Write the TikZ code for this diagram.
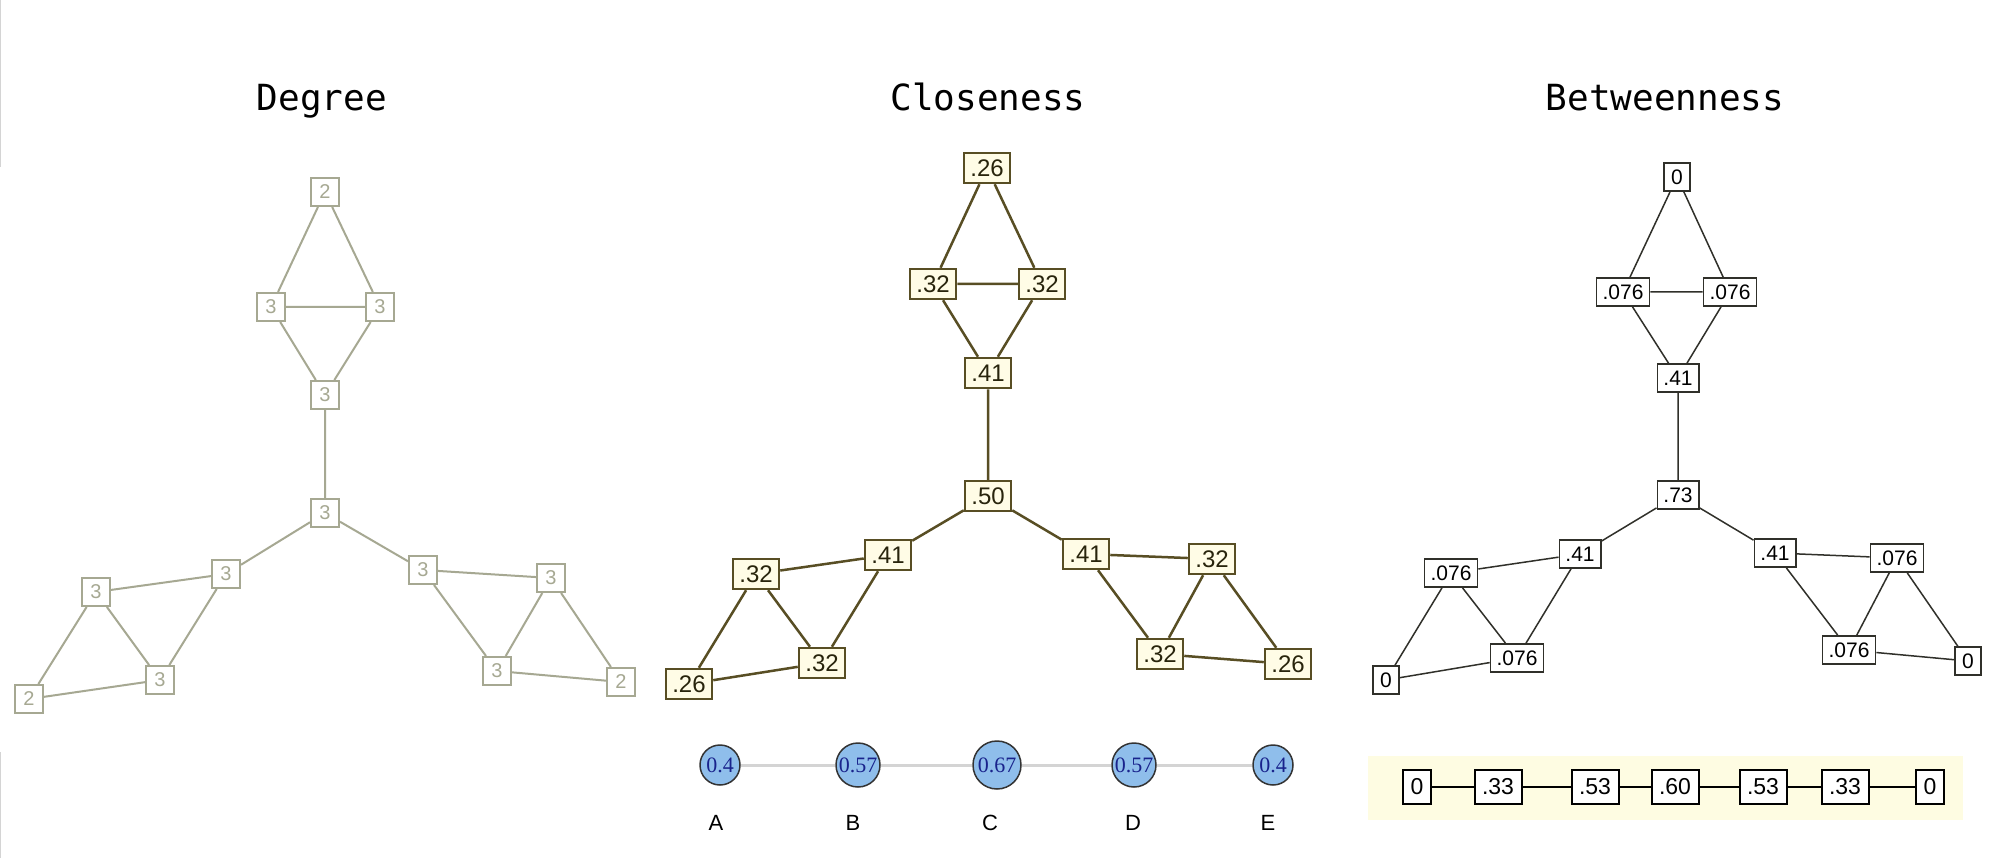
\documentclass[tikz,border=0pt]{standalone}
\usepackage{fontspec}
\setmainfont{Liberation Sans}
\newfontfamily\titlefont{DejaVu Sans Mono}
\newfontfamily\valfont{Liberation Serif}
\usepackage{xcolor}
\usepackage{tikz}
\definecolor{degreegray}{RGB}{166,168,146}
\definecolor{closeline}{RGB}{88,78,36}
\definecolor{closefill}{RGB}{255,252,230}
\definecolor{closetext}{RGB}{40,36,12}
\definecolor{betweenline}{RGB}{48,48,42}
\definecolor{pathback}{RGB}{254,252,226}
\definecolor{circfill}{RGB}{143,190,235}
\definecolor{circtext}{RGB}{25,35,140}
\definecolor{edgegray}{RGB}{212,212,212}

\begin{document}
\begin{tikzpicture}[x=1pt, y=-1pt,
  paneltitle/.style={anchor=base, font=\titlefont\fontsize{36}{40}\selectfont},
  degbox/.style={draw=degreegray, line width=2pt, fill=white, text=degreegray,
    minimum size=28pt, inner sep=0pt, font=\fontsize{20}{20}\selectfont},
  degedge/.style={draw=degreegray, line width=2pt},
  closebox/.style={draw=closeline, line width=2.5pt, fill=closefill, text=closetext,
    minimum width=46pt, minimum height=30pt, inner xsep=6pt, inner ysep=0pt,
    font=\fontsize{24}{24}\selectfont},
  closeedge/.style={draw=closeline, line width=2.5pt},
  betbox/.style={draw=betweenline, line width=1.8pt, fill=white, text=black,
    minimum width=26pt, minimum height=28pt, inner xsep=6pt, inner ysep=0pt,
    font=\fontsize{21}{21}\selectfont},
  betedge/.style={draw=betweenline, line width=1.5pt},
  valcirc/.style={circle, draw=black!80, line width=1.5pt, fill=circfill, text=circtext,
    inner sep=0pt, font=\valfont\fontsize{22}{22}\selectfont},
  letter/.style={font=\fontsize{22}{22}\selectfont},
  pathbox/.style={draw=black, line width=2pt, fill=white,
    minimum width=27pt, minimum height=34pt, inner xsep=7.5pt, inner ysep=0pt,
    font=\fontsize{23}{23}\selectfont},
  pathedge/.style={draw=black, line width=2pt}]

  \useasboundingbox (0,0) rectangle (1996,858);
  \fill[white] (0,0) rectangle (1996,858);

  % thin rule at the left edge
  \draw[edgegray, line width=1pt] (0.5,0) -- (0.5,167);
  \draw[edgegray, line width=1pt] (0.5,752) -- (0.5,858);

  % Panel titles
  \node[paneltitle] (tdeg) at (322,111) {Degree};
  \node[paneltitle] (tclo) at (988,111) {Closeness};
  \node[paneltitle] (tbet) at (1665,111) {Betweenness};

  % Degree graph
  \node[degbox] (dtop) at (325,192) {2};
  \node[degbox] (dl)   at (271,307) {3};
  \node[degbox] (dr)   at (380,307) {3};
  \node[degbox] (dmid) at (325,395) {3};
  \node[degbox] (dc)   at (325,513) {3};
  \node[degbox] (dli)  at (226,574) {3};
  \node[degbox] (dlo)  at (96,592)  {3};
  \node[degbox] (dlb)  at (160,680) {3};
  \node[degbox] (dle)  at (29,699)  {2};
  \node[degbox] (dri)  at (423,570) {3};
  \node[degbox] (dro)  at (551,578) {3};
  \node[degbox] (drb)  at (497,671) {3};
  \node[degbox] (dre)  at (621,682) {2};
  \draw[degedge] (dtop) -- (dl) (dtop) -- (dr) (dl) -- (dr)
    (dl) -- (dmid) (dr) -- (dmid) (dmid) -- (dc)
    (dc) -- (dli) (dc) -- (dri)
    (dli) -- (dlo) (dli) -- (dlb) (dlo) -- (dlb) (dlo) -- (dle) (dlb) -- (dle)
    (dri) -- (dro) (dri) -- (drb) (dro) -- (drb) (dro) -- (dre) (drb) -- (dre);

  % Closeness graph
  \node[closebox] (ctop) at (987,168)  {.26};
  \node[closebox] (cl)   at (933,284)  {.32};
  \node[closebox] (cr)   at (1042,284) {.32};
  \node[closebox] (cmid) at (988,373)  {.41};
  \node[closebox] (cc)   at (988,496)  {.50};
  \node[closebox] (cli)  at (888,555)  {.41};
  \node[closebox] (clo)  at (756,574)  {.32};
  \node[closebox] (clb)  at (822,663)  {.32};
  \node[closebox] (cle)  at (689,684)  {.26};
  \node[closebox] (cri)  at (1086,554) {.41};
  \node[closebox] (cro)  at (1212,559) {.32};
  \node[closebox] (crb)  at (1160,654) {.32};
  \node[closebox] (cre)  at (1288,664) {.26};
  \draw[closeedge] (ctop) -- (cl) (ctop) -- (cr) (cl) -- (cr)
    (cl) -- (cmid) (cr) -- (cmid) (cmid) -- (cc)
    (cc) -- (cli) (cc) -- (cri)
    (cli) -- (clo) (cli) -- (clb) (clo) -- (clb) (clo) -- (cle) (clb) -- (cle)
    (cri) -- (cro) (cri) -- (crb) (cro) -- (crb) (cro) -- (cre) (crb) -- (cre);

  % Betweenness graph
  \node[betbox] (btop) at (1677,177) {0};
  \node[betbox] (bl)   at (1623,292) {.076};
  \node[betbox] (br)   at (1730,292) {.076};
  \node[betbox] (bmid) at (1678,378) {.41};
  \node[betbox] (bc)   at (1678,495) {.73};
  \node[betbox] (bli)  at (1580,554) {.41};
  \node[betbox] (blo)  at (1451,573) {.076};
  \node[betbox] (blb)  at (1517,658) {.076};
  \node[betbox] (ble)  at (1386,680) {0};
  \node[betbox] (bri)  at (1775,553) {.41};
  \node[betbox] (bro)  at (1897,558) {.076};
  \node[betbox] (brb)  at (1849,650) {.076};
  \node[betbox] (bre)  at (1968,661) {0};
  \draw[betedge] (btop) -- (bl) (btop) -- (br) (bl) -- (br)
    (bl) -- (bmid) (br) -- (bmid) (bmid) -- (bc)
    (bc) -- (bli) (bc) -- (bri)
    (bli) -- (blo) (bli) -- (blb) (blo) -- (blb) (blo) -- (ble) (blb) -- (ble)
    (bri) -- (bro) (bri) -- (brb) (bro) -- (brb) (bro) -- (bre) (brb) -- (bre);

  % Closeness on a path
  \node[valcirc, minimum size=40pt] (na) at (720,765)  {0.4};
  \node[valcirc, minimum size=44pt] (nb) at (858,765)  {0.57};
  \node[valcirc, minimum size=48pt] (nc) at (997,765)  {0.67};
  \node[valcirc, minimum size=44pt] (nd) at (1134,765) {0.57};
  \node[valcirc, minimum size=40pt] (ne) at (1273,765) {0.4};
  \draw[edgegray, line width=3pt] (na) -- (nb) (nb) -- (nc) (nc) -- (nd) (nd) -- (ne);
  \node[letter] (la) at (716,823)  {A};
  \node[letter] (lb) at (853,823)  {B};
  \node[letter] (lc) at (990,823)  {C};
  \node[letter] (ld) at (1133,823) {D};
  \node[letter] (le) at (1268,823) {E};

  % Betweenness on a path
  \fill[pathback] (1368,756) rectangle (1963,820);
  \node[pathbox] (p1) at (1417,787) {0};
  \node[pathbox] (p2) at (1498,787) {.33};
  \node[pathbox] (p3) at (1595,787) {.53};
  \node[pathbox] (p4) at (1675,787) {.60};
  \node[pathbox] (p5) at (1763,787) {.53};
  \node[pathbox] (p6) at (1845,787) {.33};
  \node[pathbox] (p7) at (1930,787) {0};
  \draw[pathedge] (p1) -- (p2) (p2) -- (p3) (p3) -- (p4) (p4) -- (p5)
    (p5) -- (p6) (p6) -- (p7);
\end{tikzpicture}
\end{document}
